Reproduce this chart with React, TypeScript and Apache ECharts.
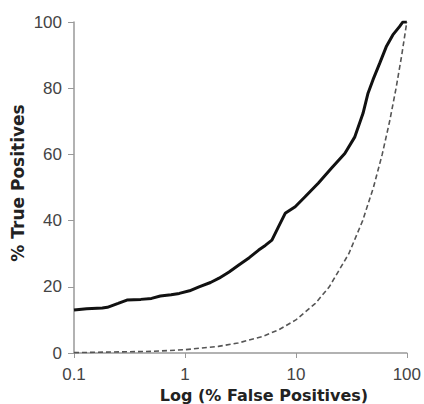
import React, { useEffect, useRef } from "react";
import * as echarts from "echarts";

const xTicks = [0.1, 1, 10, 100];
const yTicks = [0, 20, 40, 60, 80, 100];
const xTitle = "Log (% False Positives)";
const yTitle = "% True Positives";

// Solid ROC curve: [% false positives, % true positives]
const rocX = [0.1, 0.13, 0.18, 0.2, 0.25, 0.3, 0.4, 0.5, 0.6, 0.75, 0.89, 1.1, 1.34, 1.7, 2.03, 2.5, 3.06, 3.8, 4.62, 5.3, 6.08, 6.98, 8.01, 9.86, 12.1, 15.9, 20.9, 27.6, 34, 40.3, 44.7, 49.5, 56.9, 65.2, 74.8, 85.9, 92, 100];
const rocY = [13, 13.4, 13.6, 13.8, 15, 16, 16.2, 16.5, 17.2, 17.6, 18, 18.8, 20, 21.3, 22.6, 24.5, 26.6, 28.8, 31.1, 32.5, 34.1, 38.2, 42.2, 44.2, 47.2, 51.3, 55.8, 60.3, 65.3, 72.4, 78.5, 82.5, 87.5, 92.5, 96.1, 98.6, 100, 100];

// Dashed random-classifier reference line
const diagX = [0.1, 0.5, 1, 2, 3, 5, 7, 10, 15, 20, 30, 40, 50, 60, 70, 80, 90, 100];
const diagY = [0.1, 0.5, 1, 2, 3, 5, 7, 10, 15, 20, 30, 40, 50, 60, 70, 80, 90, 100];

export default function App() {
  const ref = useRef<HTMLDivElement>(null);
  useEffect(() => {
    if (!ref.current) return;
    const chart = echarts.init(ref.current, undefined, { renderer: "svg" });
    const font = "'Liberation Sans', Arial, sans-serif";
    const titleFont = "'DejaVu Sans', sans-serif";
    chart.setOption({
      animation: false,
      grid: { left: 74, right: 15, top: 22, bottom: 51, containLabel: false },
      graphic: [
        {
          type: "text",
          x: 264,
          y: 395,
          style: {
            text: xTitle, fontFamily: titleFont, fontSize: 16, fontWeight: "bold",
            fill: "#222", align: "center", verticalAlign: "middle",
          },
        },
        {
          type: "text",
          x: 18,
          y: 183,
          rotation: Math.PI / 2,
          style: {
            text: yTitle, fontFamily: titleFont, fontSize: 17, fontWeight: "bold",
            fill: "#222", align: "center", verticalAlign: "middle",
          },
        },
      ],
      xAxis: {
        type: "log",
        logBase: 10,
        min: xTicks[0],
        max: xTicks[xTicks.length - 1],
        axisLine: { lineStyle: { color: "#999", width: 1.5 } },
        axisTick: { show: true, length: 5, lineStyle: { color: "#999" } },
        axisLabel: {
          fontFamily: font, fontSize: 17, color: "#444", margin: 13,
          formatter: (v: number) => String(+v.toPrecision(3)),
        },
        splitLine: { show: false },
        minorTick: { show: false },
      },
      yAxis: {
        type: "value",
        min: yTicks[0],
        max: yTicks[yTicks.length - 1],
        interval: 20,
        axisLine: { show: true, lineStyle: { color: "#999", width: 1.5 } },
        axisTick: { show: true, length: 6, lineStyle: { color: "#999" } },
        axisLabel: { fontFamily: font, fontSize: 17, color: "#444", margin: 12 },
        splitLine: { show: false },
      },
      series: [
        {
          type: "line",
          data: diagX.map((x, i) => [x, diagY[i]]),
          showSymbol: false,
          smooth: false,
          lineStyle: { color: "#555", width: 1.6, type: [5, 3] },
          z: 1,
        },
        {
          type: "line",
          data: rocX.map((x, i) => [x, rocY[i]]),
          showSymbol: false,
          lineStyle: { color: "#111", width: 3 },
          z: 2,
        },
      ],
    });
    return () => chart.dispose();
  }, []);
  return <div ref={ref} style={{ position: "absolute", left: 0, top: 0, width: 424, height: 404 }} />;
}
